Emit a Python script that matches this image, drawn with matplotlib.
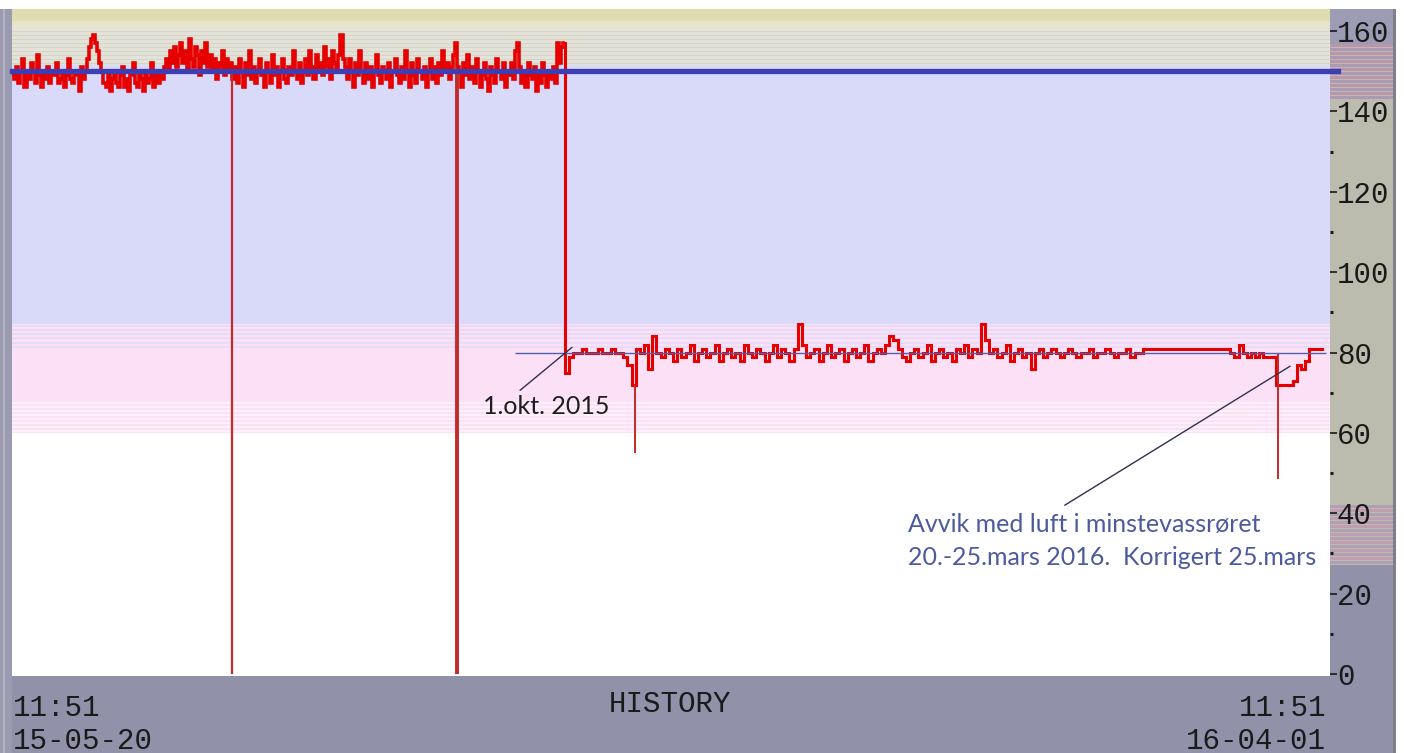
import numpy as np
import matplotlib
matplotlib.use('Agg')
import matplotlib.pyplot as plt
from matplotlib.patches import Rectangle

plt.rcParams['font.family'] = ['Liberation Mono', 'DejaVu Sans Mono']

# ## Data (days since 15-05-20 11:51)
upper_start, upper_step = 0.0, 0.5          # flow before 1.okt (l/s)
upper_vals = [
    149, 148, 151, 147, 150, 153, 146, 149, 148, 152, 150, 147, 154, 149, 146, 150, 148, 151, 147, 150,
    149, 152, 147, 148, 150, 146, 149, 153, 148, 147, 150, 149, 145, 151, 148, 150, 153, 156, 158, 159,
    157, 155, 152, 150, 147, 146, 149, 145, 148, 150, 147, 146, 149, 151, 146, 148, 145, 149, 152, 147,
    146, 149, 148, 145, 150, 147, 148, 152, 146, 149, 147, 150, 148, 151, 153, 150, 155, 152, 156, 151,
    154, 157, 152, 155, 150, 158, 153, 151, 156, 154, 149, 155, 152, 157, 151, 154, 150, 153, 148, 152,
    151, 155, 149, 153, 150, 152, 148, 151, 147, 153, 150, 146, 152, 149, 155, 148, 151, 147, 150, 153,
    149, 146, 152, 150, 147, 154, 149, 151, 146, 150, 153, 148, 147, 151, 149, 155, 150, 148, 152, 147,
    150, 153, 149, 155, 151, 148, 154, 150, 152, 149, 156, 151, 153, 148, 155, 152, 150, 154, 159, 153,
    151, 148, 153, 150, 146, 152, 149, 155, 150, 147, 152, 148, 151, 146, 150, 154, 149, 147, 151, 150,
    148, 152, 146, 150, 153, 149, 147, 151, 148, 155, 150, 146, 152, 149, 147, 153, 150, 148, 151, 146,
    150, 153, 148, 151, 147, 152, 149, 155, 150, 152, 148, 151, 154, 157, 151, 150, 146, 152, 149, 154,
    148, 151, 147, 153, 150, 146, 149, 152, 148, 145, 151, 149, 147, 153, 150, 148, 152, 146, 150, 149,
    152, 148, 155, 157, 151, 147, 150, 146, 152, 149, 148, 151, 145, 150, 147, 152, 149, 146, 150, 148,
    151, 147, 157, 152, 156, 157,
]
lower_start, lower_step = 133.0, 1.0        # flow after 1.okt
lower_vals = [
    77, 75, 79, 80, 80, 81, 80, 80, 80, 81,
    80, 80, 81, 80, 80, 79, 77, 72, 81, 80,
    82, 76, 84, 80, 79, 81, 80, 78, 81, 79,
    80, 82, 78, 80, 81, 79, 80, 82, 78, 80,
    81, 79, 80, 78, 82, 80, 79, 81, 80, 78,
    80, 82, 79, 81, 80, 78, 81, 87, 82, 79,
    80, 81, 78, 80, 82, 79, 80, 81, 78, 80,
    81, 79, 80, 82, 78, 80, 81, 80, 82, 84,
    83, 81, 79, 78, 80, 81, 79, 80, 82, 78,
    80, 81, 79, 80, 78, 81, 80, 82, 79, 81,
    80, 87, 83, 80, 81, 79, 80, 82, 78, 80,
    81, 79, 80, 76, 80, 81, 79, 80, 81, 80,
    79, 80, 81, 80, 79, 80, 80, 81, 79, 80,
    80, 81, 80, 79, 80, 80, 81, 79, 80, 80,
    81, 81, 81, 81, 81, 81, 81, 81, 81, 81,
    81, 81, 81, 81, 81, 81, 81, 81, 81, 81,
    81, 80, 79, 82, 80, 79, 80, 79, 80, 79,
    79, 79, 72, 72, 72, 72, 73, 77, 76, 78,
    81, 81, 81,
]
# short drops (day, from, to)
dip_days = [52.9, 107.0, 149.9, 304.4]
dip_from = [150, 150, 72, 80]
dip_to = [0, 0, 55, 48.5]
dip_width = [1.6, 2.8, 1.4, 1.4]

setpoint_old = 150
setpoint_new = 80
setpoint_new_span = (121, 316)

y_ticks = list(range(0, 161, 20))
y_minor = list(range(10, 160, 20))

W, H = 1404, 753
fig = plt.figure(figsize=(W / 100, H / 100), dpi=100, facecolor='white')


def px_rect(x0, y0, x1, y1, color, z=-5):
    fig.add_artist(Rectangle((x0 / W, 1 - y1 / H), (x1 - x0) / W, (y1 - y0) / H,
                             transform=fig.transFigure, facecolor=color,
                             edgecolor='none', zorder=z))


# ## Frame of the screen shot
px_rect(0, 9, 12, 753, '#9a9ab0')
px_rect(3, 9, 5, 753, '#b4b4c4')
px_rect(12, 676, 1395, 753, '#9191a9')
px_rect(1330, 9, 1395, 676, '#bcbcae')
px_rect(1330, 9, 1395, 44, '#9c9cb4')
px_rect(1330, 565, 1395, 676, '#9191a9')
for yy in range(44, 100, 4):
    px_rect(1330, yy, 1395, yy + 3, '#bc94ae' if (yy // 4) % 2 else '#ab9ab2')
for yy in range(505, 565, 4):
    px_rect(1330, yy, 1395, yy + 3, '#c29cb0' if (yy // 4) % 2 else '#b0a0b4')
px_rect(1393, 9, 1396, 753, '#80808c')

ax = fig.add_axes([12 / W, (H - 676) / H, 1318 / W, 667 / H])
ax.set_xlim(0, 317)
ax.set_ylim(-0.5, 165.5)
ax.patch.set_alpha(0)

# ## Background bands
ax.axhspan(162.5, 166, color='#dfdcb2', lw=0, zorder=0)
ax.axhspan(161, 162.5, color='#e7e4c8', lw=0, zorder=0)
ax.axhspan(151.5, 161, color='#e4e3da', lw=0, zorder=0)
for v in np.arange(152, 161, 1.0):
    ax.axhline(v, color='#d6d5c8', lw=0.8, zorder=0)
ax.axhspan(87, 151.5, color='#d9d9f9', lw=0, zorder=0)
ax.axhspan(60, 87, color='#fbe0f6', lw=0, zorder=0)
for v in np.arange(81.5, 87, 1.0):
    ax.axhline(v, color='#e4dcf8', lw=1.2, zorder=0)
for v in np.arange(60.5, 68, 1.0):
    ax.axhline(v, color='#fef4fc', lw=1.2, zorder=0)

# ## Series
ux = upper_start + upper_step * np.arange(len(upper_vals))
lx = lower_start + lower_step * np.arange(len(lower_vals))
ax.step(ux, upper_vals, where='post', color='#e60000', lw=2.6, zorder=3,
        solid_joinstyle='miter')
ax.step(np.concatenate([[ux[-1] + upper_step], lx]),
        np.concatenate([[upper_vals[-1]], lower_vals]),
        where='pre', color='#e60000', lw=2.2, zorder=3, solid_joinstyle='miter')
for d, a, b, w in zip(dip_days, dip_from, dip_to, dip_width):
    ax.vlines(d, b, a, color='#c42a2a', lw=w, zorder=3)

ax.axhline(setpoint_old, xmin=0, xmax=1.006, color='#3e3eb4', lw=3.8, zorder=4,
           clip_on=False)
ax.hlines(setpoint_new, *setpoint_new_span, color='#5060b0', lw=1.0, zorder=4)

# ## Annotations
ax.text(113.3, 66.6, '1.okt. 2015', family='Lato', fontsize=18, color='#1e1e1e',
        ha='left', va='center', zorder=5)
ax.annotate('', xy=(134.7, 81.3), xytext=(122.2, 70.6),
            arrowprops=dict(arrowstyle='-', color='#303050', lw=1.0,
                            shrinkA=0, shrinkB=0), zorder=5)
blue_txt = '#4c5a9e'
ax.text(215.5, 37.1, 'Avvik med luft i minstevassrøret', family='Lato', fontsize=18,
        color=blue_txt, ha='left', va='center', zorder=5)
ax.text(215.5, 29.1, '20.-25.mars 2016.  Korrigert 25.mars', family='Lato', fontsize=18,
        color=blue_txt, ha='left', va='center', zorder=5)
ax.annotate('', xy=(307.4, 76.6), xytext=(253.2, 42.0),
            arrowprops=dict(arrowstyle='-', color='#303050', lw=1.0,
                            shrinkA=0, shrinkB=0), zorder=5)

# ## Axis
for s in ax.spines.values():
    s.set_visible(False)
ax.set_xticks([])
ax.yaxis.tick_right()
ax.set_yticks(y_ticks)
ax.set_yticks(y_minor, minor=True)
ax.tick_params(axis='y', which='major', length=5, width=1.2, pad=0, labelsize=21,
               colors='#1a1a1a')
ax.tick_params(axis='y', which='minor', length=2, width=2.2, colors='#1a1a1a')

# ## Bottom bar texts
fs = 21
fig.text(13 / W, 1 - 716 / H, '11:51', fontsize=fs, color='#1a1a1a', va='baseline')
fig.text(13 / W, 1 - 749 / H, '15-05-20', fontsize=fs, color='#1a1a1a', va='baseline')
fig.text(670 / W, 1 - 712 / H, 'HISTORY', fontsize=fs, color='#1a1a1a', ha='center',
         va='baseline')
fig.text(1326 / W, 1 - 716 / H, '11:51', fontsize=fs, color='#1a1a1a', ha='right',
         va='baseline')
fig.text(1326 / W, 1 - 749 / H, '16-04-01', fontsize=fs, color='#1a1a1a', ha='right',
         va='baseline')

fig.savefig('out.png', dpi=100, facecolor='white')
